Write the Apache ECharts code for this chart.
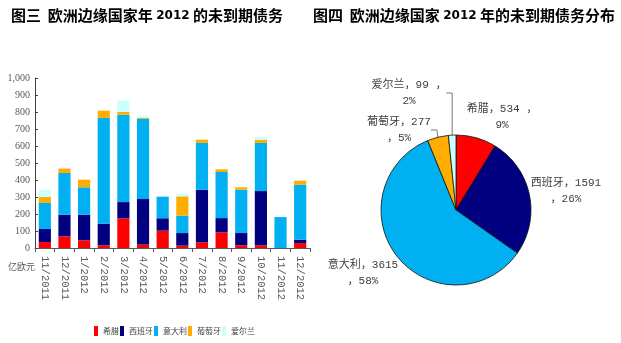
<!DOCTYPE html>
<html><head><meta charset="utf-8">
<script src="https://cdn.jsdelivr.net/npm/echarts@6/dist/echarts.min.js"></script>
<style>html,body{margin:0;padding:0;background:#fff}#c{width:621px;height:343px}</style>
</head><body><div id="c"></div>
<script>
const categories = ['11/2011','12/2011','1/2012','2/2012','3/2012','4/2012','5/2012','6/2012','7/2012','8/2012','9/2012','10/2012','11/2012','12/2012'];
const countries = ['希腊','西班牙','意大利','葡萄牙','爱尔兰'];
const greece   = [35, 69, 45, 16, 175, 20, 102, 14, 33, 92, 16, 16, 0, 29];
const spain    = [77, 127, 151, 127, 95, 268, 73, 74, 310, 84, 72, 319, 0, 20];
const italy    = [153, 245, 161, 622, 514, 471, 127, 102, 275, 271, 255, 283, 182, 324];
const portugal = [35, 26, 45, 43, 16, 6, 0, 114, 19, 16, 14, 19, 0, 23];
const ireland  = [43, 0, 0, 0, 67, 13, 0, 16, 0, 0, 0, 16, 0, 0];
const pieValues = [534, 1591, 3615, 277, 99];
const piePercents = [9, 26, 58, 5, 2];
const yTicks = [0, 100, 200, 300, 400, 500, 600, 700, 800, 900, 1000];

const colors = ['#ff0000', '#000080', '#00b0f0', '#ffad00', '#ccffff'];
const barSeriesData = [greece, spain, italy, portugal, ireland];

// label line-break style per slice (true: comma stays on first line)
const commaOnFirst = [true, false, false, false, true];
const labelPos = [[502,117],[566,191],[363,273],[399,130],[409,93]];

const chart = echarts.init(document.getElementById('c'), null, {renderer:'canvas'});
const cjk = '"Noto Sans CJK SC", sans-serif';
const labelFont = '"Liberation Mono", "Noto Sans CJK SC", monospace';

const series = barSeriesData.map((d, i) => ({
  name: countries[i], type: 'bar', stack: 'debt', barWidth: '62%',
  data: d, itemStyle: {color: colors[i]}, emphasis:{disabled:true}
}));

series.push({
  type: 'pie', center: [456, 210], radius: 75, startAngle: 90, clockwise: true,
  avoidLabelOverlap: false, emphasis:{disabled:true},
  itemStyle: {borderColor: '#111', borderWidth: 0.8},
  label: {
    show: true, position: 'outside', color: '#404040', fontSize: 11, lineHeight: 16,
    fontFamily: labelFont, align: 'center',
    formatter: p => {
      const i = p.dataIndex;
      return commaOnFirst[i]
        ? p.name + '，' + p.value + ' ，\n' + piePercents[i] + '%'
        : p.name + '，' + p.value + '\n，' + piePercents[i] + '%';
    }
  },
  labelLine: {show: false, length: 6, length2: 6, lineStyle: {color: '#555', width: 0.8}},
  labelLayout: p => ({x: labelPos[p.dataIndex][0], y: labelPos[p.dataIndex][1], align: 'center', verticalAlign: 'middle'}),
  data: pieValues.map((v, i) => ({
    name: countries[i], value: v, itemStyle: {color: colors[i]},
    labelLine: {show: i >= 3}
  }))
});

chart.setOption({
  animation: false,
  title: [
    {text: '图三  欧洲边缘国家年 {n|2012} 的未到期债务', left: 6, top: 3,
     textStyle: {fontFamily: cjk, fontSize: 15, fontWeight: 'bold', color: '#000',
       rich: {n: {fontFamily: 'DejaVu Sans', fontSize: 12, fontWeight: 'bold', color: '#000'}}}},
    {text: '图四  欧洲边缘国家 {n|2012} 年的未到期债务分布', left: 308, top: 3,
     textStyle: {fontFamily: cjk, fontSize: 15, fontWeight: 'bold', color: '#000',
       rich: {n: {fontFamily: 'DejaVu Sans', fontSize: 12, fontWeight: 'bold', color: '#000'}}}}
  ],
  legend: {
    data: countries, left: 89, top: 321, itemWidth: 4, itemHeight: 10, itemGap: 1,
    icon: 'rect', textStyle: {fontFamily: '"Noto Sans CJK SC"', fontSize: 8, color: '#404040'}
  },
  grid: {left: 35, right: 311, top: 78, bottom: 95, containLabel: false},
  xAxis: {
    type: 'category', data: categories,
    axisLine: {lineStyle: {color: '#595959', width: 1}},
    axisTick: {show: true, length: 4, lineStyle: {color: '#595959'}},
    axisLabel: {rotate: -90, interval: 0, margin: 8, fontFamily: '"Liberation Mono", monospace', fontSize: 10.5, color: '#595959'}
  },
  yAxis: {
    type: 'value', min: 0, max: 1000, interval: 100,
    axisLine: {show: true, lineStyle: {color: '#404040', width: 1}},
    axisTick: {show: true, inside: true, length: 3, lineStyle: {color: '#404040'}},
    splitLine: {show: false},
    axisLabel: {margin: 5, fontFamily: '"Liberation Serif", serif', fontSize: 10, color: '#595959',
      formatter: v => yTicks.includes(v) ? v.toLocaleString('en-US') : ''}
  },
  graphic: [{type: 'text', left: 8, top: 262, style: {text: '亿欧元', font: '9px "Noto Sans CJK SC"', fill: '#595959'}}],
  series: series
});
</script></body></html>
